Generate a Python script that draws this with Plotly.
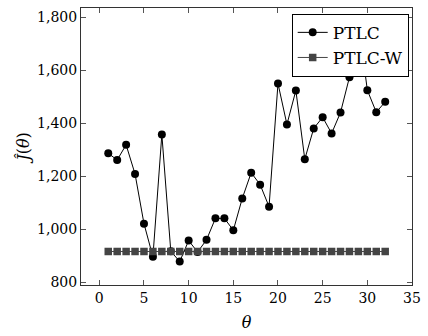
import plotly.graph_objects as go

theta = list(range(1, 33))
ptlc = [1287, 1262, 1319, 1209, 1022, 897, 1358, 918, 879, 958,
        915, 961, 1042, 1042, 997, 1117, 1214, 1169, 1086, 1550,
        1396, 1524, 1265, 1381, 1423, 1362, 1441, 1574, 1785, 1525,
        1442, 1481]
ptlc_w = [917] * 32

x_ticks = [0, 5, 10, 15, 20, 25, 30, 35]
y_ticks = [800, 1000, 1200, 1400, 1600, 1800]

FONT = "DejaVu Serif"

fig = go.Figure()
fig.add_trace(go.Scatter(
    x=theta, y=ptlc, name="PTLC", mode="lines+markers",
    line=dict(color="black", width=1),
    marker=dict(symbol="circle", size=8, color="black"),
))
fig.add_trace(go.Scatter(
    x=theta, y=ptlc_w, name="PTLC-W", mode="lines+markers",
    line=dict(color="#444444", width=1),
    marker=dict(symbol="square", size=7.5, color="#444444"),
))

axis_common = dict(
    showline=True, linecolor="#333333", linewidth=1, mirror="allticks",
    ticks="inside", ticklen=5, tickcolor="#555555", tickwidth=1,
    showgrid=False, zeroline=False,
    tickfont=dict(family=FONT, size=14, color="black"),
)

fig.update_layout(
    width=428, height=336,
    margin=dict(l=81, r=10, t=7, b=47),
    paper_bgcolor="white", plot_bgcolor="white",
    font=dict(family=FONT, size=14, color="black"),
    xaxis=dict(range=[-2.05, 35], tickvals=x_ticks,
               title=dict(text="<i>θ</i>", standoff=12,
                          font=dict(family=FONT, size=16)),
               **axis_common),
    yaxis=dict(range=[790.7, 1834.8], tickvals=y_ticks, tickformat=",",
               title=dict(text="<i>Ĵ</i>(<i>θ</i>)", standoff=3,
                          font=dict(family=FONT, size=16)),
               **axis_common),
    legend=dict(x=0.99, y=0.979, xanchor="right", yanchor="top",
                bgcolor="white", bordercolor="black", borderwidth=1,
                font=dict(family=FONT, size=17, color="black"),
                tracegroupgap=0),
    showlegend=True,
)

fig.write_html("out.html")
